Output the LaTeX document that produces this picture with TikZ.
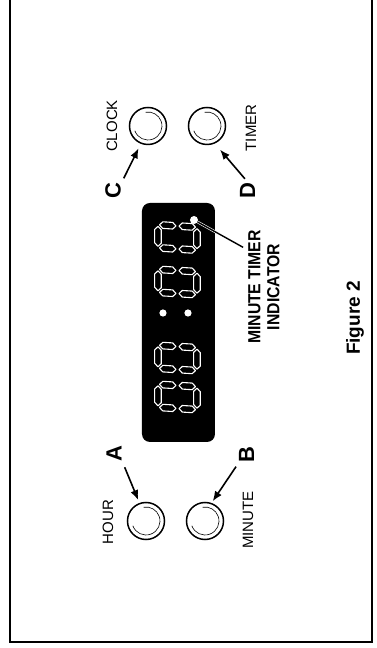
\documentclass[tikz,border=0pt]{standalone}
\usepackage{fontspec}
\setmainfont{Liberation Sans}
\usetikzlibrary{arrows.meta,calc}

\begin{document}
\begin{tikzpicture}[x=1pt,y=1pt,rotate=90,transform shape]
\tikzset{btn/.style={draw, circle, line width=1.5pt, minimum size=37pt, inner sep=0pt},
  lbl/.style={font=\fontsize{15}{17}\selectfont, inner sep=1pt},
  key/.style={font=\fontsize{22}{24}\selectfont\bfseries, inner sep=1pt},
  seg/.style={draw=white, fill=black, line width=1.1pt, line join=round},
  ptr/.style={->, line width=1.6pt},
  >={Latex[length=10pt,width=8pt]}}

\useasboundingbox (0,0) rectangle (648,377);

% Frame
\draw[line width=1.3pt] (648,367) -- (6,367) -- (6,5) -- (648,5);

% Display with digits
\node[fill=black, rounded corners=8pt, minimum width=239pt, minimum height=73pt] (disp) at (325.5,198.5) {};

\foreach \u in {251,290,366,410.5}{
  \begin{scope}[shift={(\u,199.5)}, xslant=0.06]
    \foreach \a/\b/\r/\l in {0/19.5/0/20, 0/-19.5/0/20, -11.5/9.75/90/16.5,
        -11.5/-9.75/90/16.5, 11.5/9.75/90/16.5, 11.5/-9.75/90/16.5}
      \draw[seg, shift={(\a,\b)}, rotate=\r] ({-\l/2},0) -- ({-\l/2+3.3},3.3) -- ({\l/2-3.3},3.3)
        -- ({\l/2},0) -- ({\l/2-3.3},-3.3) -- ({-\l/2+3.3},-3.3) -- cycle;
  \end{scope}}
\foreach \v in {189,214}
  \fill[white] (335,\v) circle (3.6);

\node[circle, fill=white, inner sep=0pt, minimum size=8pt] (mti) at (428,183) {};

% Buttons
\node[btn] (clock) at (522,229) {};
\node[btn] (timer) at (522,170) {};
\node[btn] (hour) at (127,231) {};
\node[btn] (minute) at (127,172) {};
\foreach \b in {clock,timer,hour,minute}
  \draw[line width=0.6pt] (\b.center) ++(110:14) arc[start angle=110, end angle=370, radius=14];

\node[lbl] (clocklbl) at (522,265) {CLOCK};
\node[lbl] (timerlbl) at (520,126) {TIMER};
\node[lbl] (hourlbl) at (126,269) {HOUR};
\node[lbl] (minutelbl) at (128,129) {MINUTE};

% Keys
\node[key] (C) at (457,264) {C};
\node[key] (D) at (457,129.5) {D};
\node[key] (A) at (194.5,263) {A};
\node[key] (B) at (193,130.5) {B};

% Indicator label
\node[font=\fontsize{17.5}{19}\selectfont\bfseries, align=center, xscale=0.9] (ind) at (361,113)
{MINUTE TIMER\\INDICATOR};

\node[font=\fontsize{19}{21}\selectfont\bfseries, anchor=base] (fig) at (330,17) {Figure 2};

% Connections
\draw[ptr, shorten <=4pt, shorten >=5pt] (C.south east) -- (clock.158);
\draw[ptr, shorten <=4pt, shorten >=8pt] (D.east) -- (timer.204);
\draw[ptr, shorten <=5pt, shorten >=3pt] (A.south west) -- (hour.20);
\draw[ptr, shorten <=3pt, shorten >=2pt] (B.north west) -- (minute.-20);

\draw[draw=white, line width=0.6pt, double=black, double distance=1.4pt, shorten >=2pt] (mti) -- (ind.24);

\end{tikzpicture}
\end{document}
